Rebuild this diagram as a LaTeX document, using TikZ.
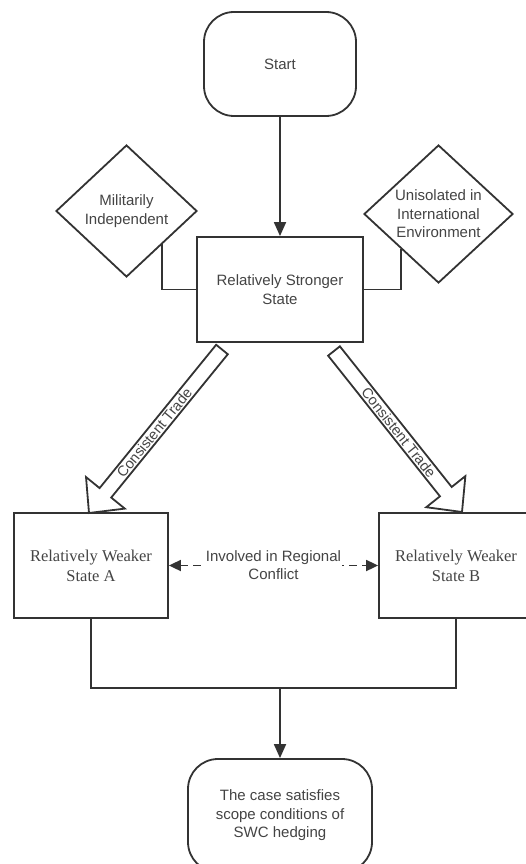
\documentclass[tikz,border=0pt]{standalone}
\usepackage{fontspec}
\setmainfont{Liberation Serif}
\setsansfont{Liberation Sans}
\usepackage{xcolor}
\definecolor{inkline}{RGB}{51,51,51}
\definecolor{inktext}{RGB}{68,68,68}
\usepackage{tikz}
\usetikzlibrary{
  shapes.geometric,
  arrows.meta,
  calc
}

\begin{document}
\begin{tikzpicture}[
  x=1pt, y=-1pt,
  terminal/.style={rectangle, draw=inkline, fill=white, line width=1.8pt, rounded corners=30pt, minimum width=152pt, minimum height=104pt, align=center, text=inktext, font=\sffamily\fontsize{15}{18.5}\selectfont},
  statebox/.style={rectangle, draw=inkline, fill=white, line width=1.8pt, minimum width=166pt, minimum height=105pt, align=center, text=inktext, font=\sffamily\fontsize{15}{18.5}\selectfont},
  weak/.style={statebox, minimum width=154pt, font=\rmfamily\fontsize{16.5}{20}\selectfont},
  cond/.style={diamond, draw=inkline, fill=white, line width=1.8pt, inner sep=0pt, align=center, text=inktext, font=\sffamily\fontsize{15}{18.5}\selectfont},
  wire/.style={draw=inkline, line width=1.8pt},
  arr/.style={wire, -{Triangle[length=14pt, width=12pt]}},
  fat/.style={draw=inkline, fill=white, line width=1.8pt, line join=miter},
  trade/.style={font=\sffamily\fontsize{14.5}{17}\selectfont, text=inktext, inner sep=0pt},
  lbl/.style={font=\sffamily\fontsize{15}{18}\selectfont, text=inktext, fill=white, inner sep=1pt, align=center}
]
  \useasboundingbox (0,0) rectangle (526,864);

  \node[terminal] (start) at (280,64) {Start};
  \node[statebox] (strong) at (280,289.5) {Relatively Stronger\\State};
  \node[cond, minimum width=141pt, minimum height=132pt] (milit) at (126.5,211) {Militarily\\Independent};
  \node[cond, minimum width=149pt, minimum height=138pt] (unisol) at (438.5,214) {Unisolated in\\International\\Environment};

  \node[weak] (weakA) at (91,565.5) {Relatively Weaker\\State A};
  \node[weak] (weakB) at (456,565.5) {Relatively Weaker\\State B};
  \node[terminal, minimum width=184pt, minimum height=113pt] (finish) at (280,815.5) {The case satisfies\\scope conditions of\\SWC hedging};

  \coordinate (tailA) at (222,349.5);
  \coordinate (tipA) at (89,513);
  \coordinate (tailB) at (334,351);
  \coordinate (tipB) at (462,512);
  \coordinate (merge) at (280,688);

  \draw[arr] (start) -- (strong);
  \draw[wire] (milit.south east) |- (strong.west);
  \draw[wire] (unisol.south west) |- (strong.east);

  % fat trade arrows
  \foreach \from/\to in {tailA/tipA, tailB/tipB} {
    \coordinate (base) at ($(\to)!26pt!(\from)$);
    \draw[fat] ($(\from)!7.5pt!90:(\to)$) -- ($(base)!7.5pt!-90:(\from)$) -- ($(base)!25pt!-90:(\from)$) -- (\to)
      -- ($(base)!25pt!90:(\from)$) -- ($(base)!7.5pt!90:(\from)$) -- ($(\from)!7.5pt!-90:(\to)$) -- cycle;
    \path (\from) -- node[trade, sloped, pos=0.58] {Consistent Trade} (base);
  }

  \draw[wire, dash pattern=on 8pt off 5pt, {Triangle[length=12pt, width=11pt]}-{Triangle[length=12pt, width=11pt]}] (weakA.east) -- node[lbl] {Involved in Regional\\Conflict} (weakB.west);

  \draw[wire] (weakA.south) |- (merge) -| (weakB.south);
  \draw[arr] (merge) -- (finish);
\end{tikzpicture}
\end{document}
